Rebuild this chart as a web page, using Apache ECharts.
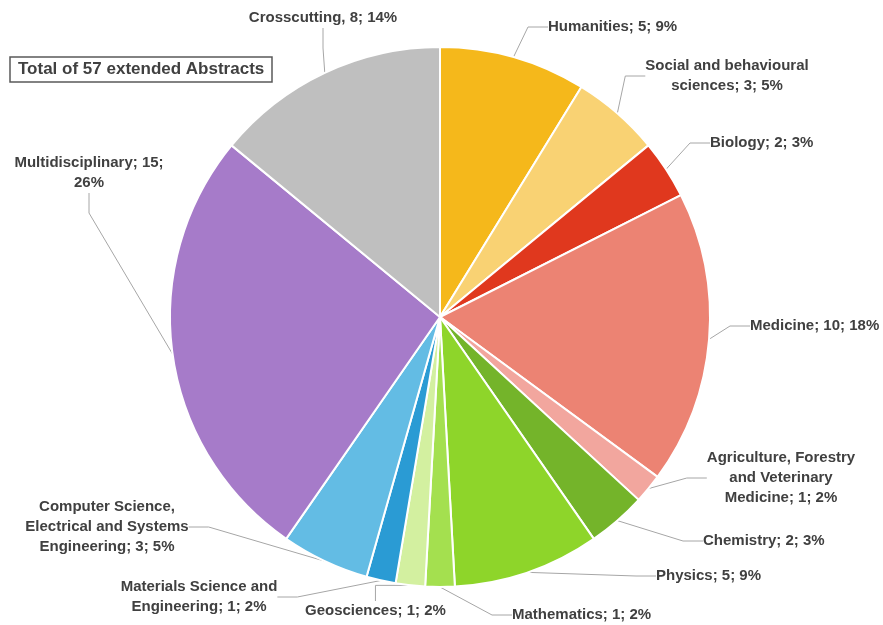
<!DOCTYPE html>
<html>
<head>
<meta charset="utf-8">
<script src="https://cdn.jsdelivr.net/npm/echarts@6/dist/echarts.min.js"></script>
<style>html,body{margin:0;padding:0;background:#fff;}#c{width:883px;height:625px;}</style>
</head>
<body>
<div id="c"></div>
<script>
const categories = ['Humanities', 'Social and behavioural sciences', 'Biology', 'Medicine',
  'Agriculture, Forestry and Veterinary Medicine', 'Chemistry', 'Physics', 'Mathematics',
  'Geosciences', 'Materials Science and Engineering',
  'Computer Science, Electrical and Systems Engineering', 'Multidisciplinary', 'Crosscutting'];
const values = [5, 3, 2, 10, 1, 2, 5, 1, 1, 1, 3, 15, 8];
const titleText = 'Total of 57 extended Abstracts';

const colors = ['#F5B81B', '#F9D273', '#E0381E', '#EC8373', '#F2A69E', '#74B42A', '#8ED52A',
  '#A4E04F', '#D3F0A0', '#2A9BD4', '#63BCE4', '#A67BC9', '#BFBFBF'];
// label text wrapping (line breaks only)
const wraps = {
  'Social and behavioural sciences': s => s.replace('behavioural ', 'behavioural\n'),
  'Agriculture, Forestry and Veterinary Medicine': s => s.replace('Forestry ', 'Forestry\n').replace('Veterinary ', 'Veterinary\n'),
  'Materials Science and Engineering': s => s.replace('and ', 'and\n'),
  'Computer Science, Electrical and Systems Engineering': s => s.replace('Science, ', 'Science,\n').replace('Systems ', 'Systems\n'),
  'Multidisciplinary': s => s.replace('15; ', '15;\n')
};
// label placement: [x, y, align]
const labelPlace = [
  [548, 27, 'left'], [727, 76, 'center'], [710, 143, 'left'], [750, 326, 'left'],
  [781, 478, 'center'], [703, 541, 'left'], [656, 576, 'left'], [512, 615, 'left'],
  [305, 611, 'left'], [199, 597, 'center'], [107, 527, 'center'], [89, 173, 'center'],
  [323, 18, 'center']
];

const chart = echarts.init(document.getElementById('c'), null, {renderer: 'canvas'});
chart.setOption({
  animation: false,
  title: {
    text: titleText, left: 10, top: 57,
    borderColor: '#595959', borderWidth: 1.5, padding: [4, 8],
    textStyle: {fontFamily: 'Liberation Sans', fontWeight: 'bold', fontSize: 17, color: '#404040'}
  },
  series: [{
    type: 'pie',
    center: [440, 317],
    radius: 270,
    startAngle: 90,
    clockwise: true,
    percentPrecision: 0,
    avoidLabelOverlap: false,
    itemStyle: {borderColor: '#fff', borderWidth: 2},
    data: categories.map((n, i) => ({name: n, value: values[i], itemStyle: {color: colors[i]}})),
    label: {
      show: true, position: 'outside',
      fontFamily: 'Liberation Sans', fontWeight: 'bold', fontSize: 15, color: '#404040', lineHeight: 20,
      formatter: p => {
        const sep = p.name === 'Crosscutting' ? ', ' : '; ';
        let s = p.name + sep + p.value + '; ' + p.percent + '%';
        return wraps[p.name] ? wraps[p.name](s) : s;
      }
    },
    labelLine: {show: true, length: 20, length2: 20, lineStyle: {color: '#A6A6A6', width: 1}},
    labelLayout: params => {
      const pl = labelPlace[params.dataIndex];
      return {x: pl[0], y: pl[1], align: pl[2], verticalAlign: 'middle'};
    }
  }]
});
</script>
</body>
</html>
